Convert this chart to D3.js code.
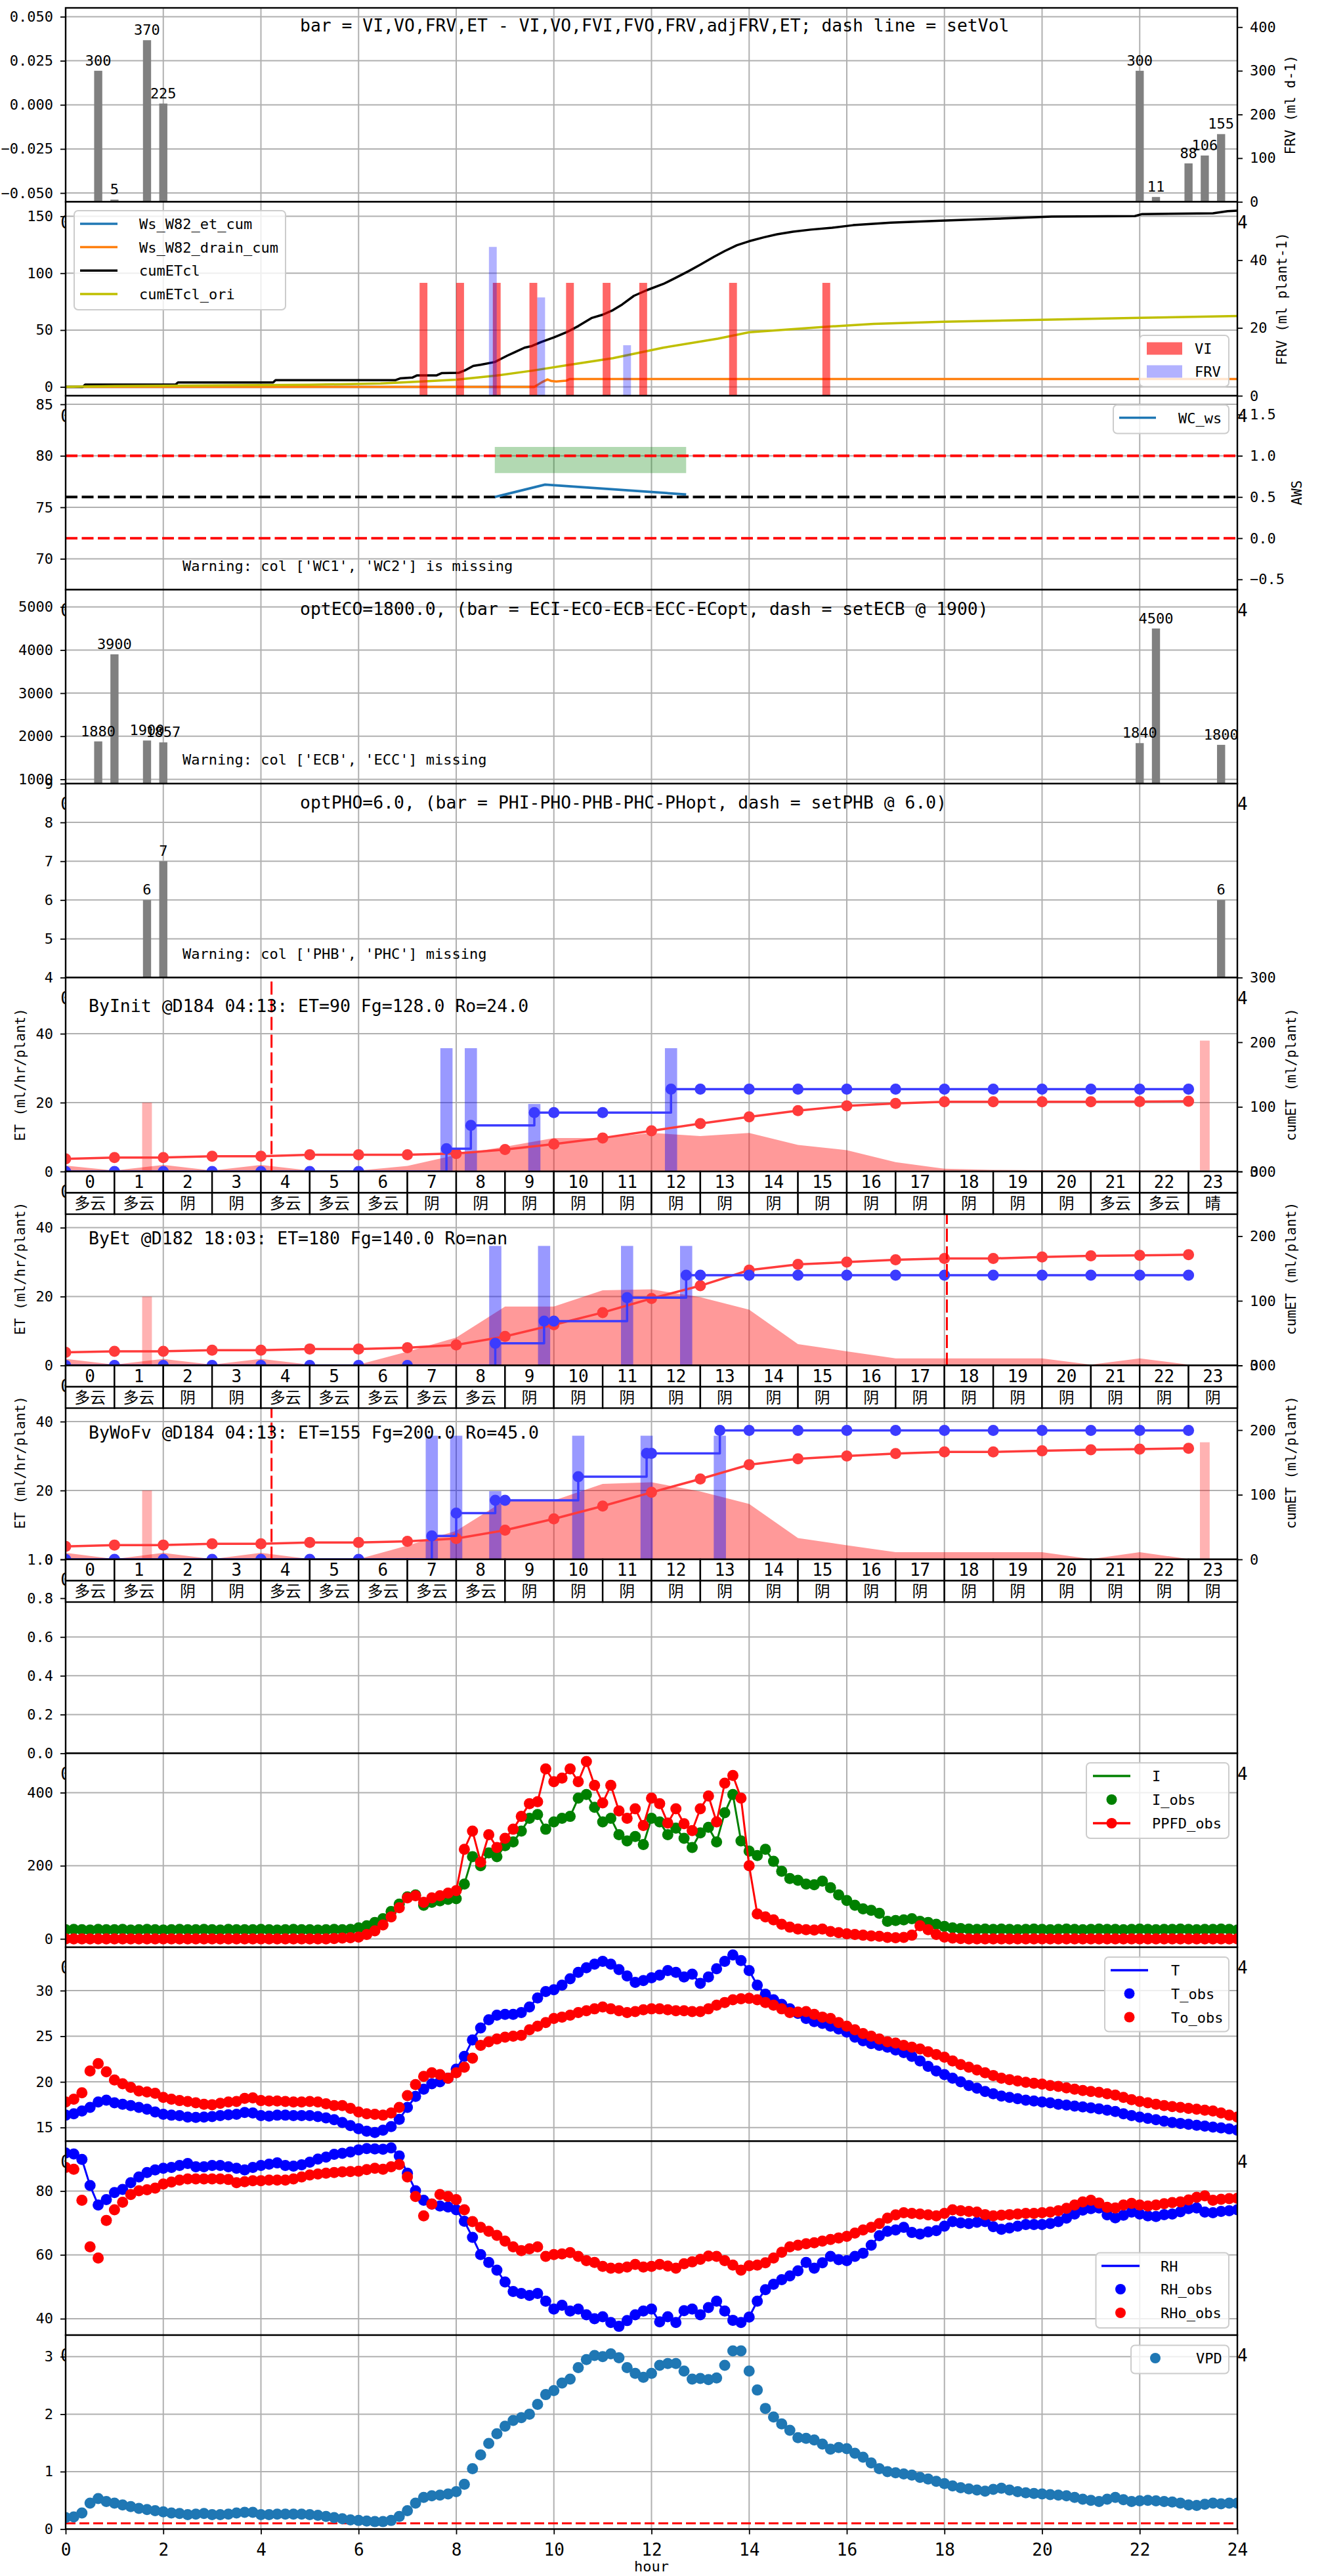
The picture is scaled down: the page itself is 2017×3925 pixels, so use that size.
<!DOCTYPE html>
<html><head><meta charset="utf-8">
<script src="https://cdn.jsdelivr.net/npm/d3@7"></script>
<style>
body{margin:0;background:#fff;}
svg text{font-family:"DejaVu Sans Mono","Noto Sans CJK SC",monospace;fill:#000;}
</style></head><body>
<svg id="chart" width="2017" height="3925"></svg>
<script>
// ================= DATA =================
const HOURS=[0,1,2,3,4,5,6,7,8,9,10,11,12,13,14,15,16,17,18,19,20,21,22,23];
const XTICKS=[0,2,4,6,8,10,12,14,16,18,20,22,24];

// panel 0 : FRV per day bars
const FRVD_T=[0.667,1.0,1.667,2.0,22.0,22.333,23.0,23.333,23.667];
const FRVD_V=[300,5,370,225,300,11,88,106,155];
const TITLE0="bar = VI,VO,FRV,ET - VI,VO,FVI,FVO,FRV,adjFRV,ET; dash line = setVol";

// panel 1 : cumulative lines + VI / FRV bars
const ETCUM_T=[0,9.6], ETCUM_V=[0,0];
const DRAIN_T=[0,9.6,9.75,9.87,9.95,10.05,10.25,10.33,24];
const DRAIN_V=[0,0,4.0,6.6,5.2,4.8,5.5,7.0,7.0];
const CUMETCL_T=[0,0.35,0.4,2.25,2.3,4.25,4.3,6.75,6.85,7.1,7.2,7.6,7.7,8.05,8.2,8.35,8.5,8.79,9.05,9.2,9.4,9.55,9.74,10.0,10.26,10.5,10.78,11.0,11.21,11.4,11.64,11.9,12.24,12.5,12.76,13.0,13.28,13.5,13.75,14.0,14.3,14.57,14.9,15.26,15.7,16.13,16.9,17.93,19.05,20.2,21.9,22.05,23.5,23.8,24];
const CUMETCL_V=[0,0,2.0,2.0,3.9,3.9,5.9,5.9,7.5,8.2,10.2,10.2,12.1,12.4,15,18.5,19.5,21.9,27.6,30.5,34.5,36,39.5,43.5,48.1,53.5,60.7,63.5,67.5,72.5,80.1,85,90.5,96,101.8,107.5,114.4,119.5,124.6,128.1,131.5,134.2,136.5,138.3,139.9,142.2,144.5,146.1,147.9,149.7,150.2,152.0,152.7,154.5,155.0];
const ORI_T=[0,0.3,1,3,5,6.45,7.3,8.0,8.79,9.57,10.35,11.21,12.24,13.36,14.0,15.7,16.55,17.97,20,22,24];
const ORI_V=[0,0.3,0.8,1.3,1.9,3.0,4.8,6.4,9.8,14.4,19.6,25.3,34.5,42.4,48.1,53.2,55.5,57.3,59.1,60.7,62.3];
const VI_T=[7.33,8.08,8.83,9.58,10.33,11.08,11.83,13.67,15.58];
const VI_V=[33.3,33.3,33.3,33.3,33.3,33.3,33.3,33.3,33.3];
const FRV1_T=[8.75,9.74,11.5];
const FRV1_V=[43.9,29.0,14.9];

// panel 2 : AWS
const AWS_LIMITS=[80,72];      // red dashed
const AWS_SET=76;              // black dashed
const AWS_BAND_T=[8.79,12.71], AWS_BAND_V=[0.79,1.107];
const WC_T=[8.79,9.82,12.71], WC_V=[76.0,77.2,76.25];
const WARN2="Warning: col ['WC1', 'WC2'] is missing";

// panel 3 : EC
const EC_T=[0.667,1.0,1.667,2.0,22.0,22.333,23.667];
const EC_V=[1880,3900,1900,1857,1840,4500,1800];
const TITLE3="optECO=1800.0, (bar = ECI-ECO-ECB-ECC-ECopt, dash = setECB @ 1900)";
const WARN3="Warning: col ['ECB', 'ECC'] missing";

// panel 4 : PH
const PH_T=[1.667,2.0,23.667];
const PH_V=[6,7,6];
const TITLE4="optPHO=6.0, (bar = PHI-PHO-PHB-PHC-PHopt, dash = setPHB @ 6.0)";
const WARN4="Warning: col ['PHB', 'PHC'] missing";

// panels 5-7 : ET by scenario
const INIT_TITLE="ByInit @D184 04:13: ET=90 Fg=128.0 Ro=24.0";
const INIT_ET=[1.7,0.3,1.9,0.3,1.9,0.3,0.3,1.6,4.8,7.2,9.7,9.7,11.2,10.3,11.2,7.7,6.2,2.7,0.8,0.5,0.4,0.4,0.3,0.3];
const INIT_CUM=[19.5,21.6,21.6,23.7,23.7,25.8,25.8,25.8,27.8,34.0,42.3,51.9,63.0,74.2,84.6,94.1,101.5,105.3,107.8,107.8,107.8,107.8,108.2,108.6];
const INIT_FG_T=[0,1,2,3,4,5,6,7.8,8.3,9.6,10,11,12.4,13,14,15,16,17,18,19,20,21,22,23];
const INIT_FG_V=[0,0,0,0,0,0,0,35.2,71.3,91.2,91.2,91.2,127.3,127.3,127.3,127.3,127.3,127.3,127.3,127.3,127.3,127.3,127.3,127.3];
const INIT_FRV_T=[7.8,8.3,9.6,12.4], INIT_FRV_V=[35.8,35.8,19.6,35.8];
const INIT_VI_T=[1.667,23.333], INIT_VI_V=[20,38];
const INIT_MARK=4.217;
const INIT_WX=['多云','多云','阴','阴','多云','多云','多云','阴','阴','阴','阴','阴','阴','阴','阴','阴','阴','阴','阴','阴','阴','多云','多云','晴'];

const ET_TITLE="ByEt @D182 18:03: ET=180 Fg=140.0 Ro=nan";
const ET_ET=[1.9,0.25,1.9,0.25,1.9,0.25,0.25,4.0,8.1,17.1,17.1,21.8,22.1,19.8,16.2,6.2,4.1,2.05,2.05,2.05,2.05,0.25,2.05,0.25];
const ET_CUMV=[20.2,21.9,21.9,23.7,23.7,25.5,25.5,27.3,31.7,44.9,62.9,81.8,103.5,123.3,147.5,156.3,159.8,163.4,165.5,165.5,167.7,169.5,170.4,171.3];
const ET_FG_T=[0,1,2,3,4,5,6,7,8.8,9.8,10,11.5,12.71,13,14,15,16,17,18,19,20,21,22,23];
const ET_FG_V=[0,0,0,0,0,0,0,0,34.3,68.6,68.6,104.8,139.5,139.5,139.5,139.5,139.5,139.5,139.5,139.5,139.5,139.5,139.5,139.5];
const ET_FRV_T=[8.8,9.8,11.5,12.71], ET_FRV_V=[34.7,34.7,34.7,34.7];
const ET_VI_T=[1.667], ET_VI_V=[20];
const ET_MARK=18.05;
const ET_WX=['多云','多云','阴','阴','多云','多云','多云','多云','多云','阴','阴','阴','阴','阴','阴','阴','阴','阴','阴','阴','阴','阴','阴','阴'];

const WO_TITLE="ByWoFv @D184 04:13: ET=155 Fg=200.0 Ro=45.0";
const WO_ET=[1.9,0.1,1.9,0.1,1.9,0.1,0.1,4.0,8.3,17.1,17.1,21.9,22.4,19.7,16.1,6.2,4.1,2.1,2.1,2.1,2.1,0.1,2.1,0.1];
const WO_CUM=[20.0,22.2,22.2,24.0,24.0,26.2,26.2,27.9,32.3,45.1,62.7,82.5,103.7,124.4,146.4,155.6,160.0,163.6,166.2,166.2,167.9,169.6,170.6,171.9];
const WO_FG_T=[0,1,2,3,4,5,6,7.5,8.0,8.8,9,10.5,11.9,12,13.4,14,15,16,17,18,19,20,21,22,23];
const WO_FG_V=[0,0,0,0,0,0,0,36.3,71.5,91.4,91.4,127.9,164.0,164.0,199.6,199.6,199.6,199.6,199.6,199.6,199.6,199.6,199.6,199.6,199.6];
const WO_FRV_T=[7.5,8.0,8.8,10.5,11.9,13.4], WO_FRV_V=[35.9,35.9,19.8,35.9,35.9,35.9];
const WO_VI_T=[1.667,23.333], WO_VI_V=[20,34];
const WO_MARK=4.217;
const WO_WX=ET_WX;

// panels 9-12 : 10-minute observations, from 00:00 to 24:00
const OBS_STEP_H=1/6;
const I_OBS=[25,26,25,24,26,25,25,26,24,25,26,25,24,25,26,25,25,26,25,24,26,25,25,25,26,25,24,25,26,25,25,24,25,26,25,26,
30,36,45,55,75,95,115,120,92,100,104,108,110,150,225,200,235,225,255,265,295,330,340,300,320,330,335,385,395,360,320,330,285,268,280,258,330,320,285,303,275,250,290,305,265,345,395,268,240,228,245,212,185,165,160,150,148,158,140,120,105,92,82,78,70,48,50,52,55,48,45,40,34,
30,28,27,26,27,26,27,26,25,26,27,26,25,26,27,26,25,26,27,26,26,25,26,27,26,25,26,26,27,26,25,26,26,27,26,24];
const PPFD_OBS=[0,0,0,0,0,0,0,0,0,0,0,0,0,0,0,0,0,0,0,0,0,0,0,0,0,0,0,0,0,0,0,0,0,
1,2,3,5,12,22,38,60,85,112,118,100,112,118,125,132,245,295,210,285,250,275,300,335,370,375,465,430,440,465,430,485,420,372,420,350,330,356,310,385,370,317,356,315,296,356,391,320,426,447,385,200,68,60,52,40,32,27,25,24,27,20,17,14,12,10,8,7,4,3,4,10,36,25,12,5,2,1,
0,0,0,0,0,0,0,0,0,0,0,0,0,0,0,0,0,0,0,0,0,0,0,0,0,0,0,0,0,0,0,0,0,0];
const T_OBS=[16.35,16.5,16.8,17.2,17.8,18.0,17.7,17.55,17.4,17.2,
17.0,16.7,16.45,16.35,16.3,16.15,16.1,16.15,16.2,16.3,
16.4,16.45,16.65,16.6,16.3,16.25,16.35,16.35,16.3,16.3,
16.3,16.2,16.05,15.85,15.55,15.2,14.87,14.6,14.45,14.7,
15.1,15.9,17.2,18.4,19.2,19.8,20.0,20.4,21.4,22.8,
24.6,25.9,26.8,27.3,27.4,27.4,27.6,28.2,29.2,29.9,
30.1,30.6,31.3,32.0,32.5,32.9,33.2,32.9,32.3,31.6,
30.9,31.1,31.4,31.7,32.2,32.0,31.5,31.8,30.8,31.5,
32.4,33.2,33.9,33.3,32.2,30.6,29.6,29.0,28.5,28.0,
27.5,26.95,26.6,26.4,26.1,25.8,25.45,24.9,24.5,24.2,
24.0,23.8,23.5,23.2,22.8,22.3,21.7,21.2,20.8,20.4,
20.0,19.6,19.3,18.95,18.7,18.45,18.3,18.15,18.0,17.9,
17.8,17.7,17.55,17.45,17.35,17.25,17.15,17.05,16.9,16.75,
16.5,16.3,16.15,16.0,15.85,15.7,15.55,15.45,15.35,15.25,
15.15,15.05,14.95,14.85,14.7];
const TO_OBS=[17.8,18.1,18.8,21.2,22.0,21.1,20.2,19.8,19.4,19.0,
18.9,18.75,18.3,18.1,17.95,17.85,17.7,17.55,17.5,17.65,
17.8,17.85,18.2,18.25,17.95,17.9,17.9,17.85,17.8,17.8,
17.85,17.8,17.6,17.4,17.4,17.1,16.7,16.5,16.45,16.35,
16.6,17.2,18.5,19.7,20.6,21.0,20.8,20.4,21.0,21.6,
22.6,24.0,24.4,24.7,24.9,25.0,25.1,25.7,26.1,26.5,
26.95,27.1,27.3,27.6,27.8,28.0,28.2,28.0,27.8,27.6,
27.7,27.9,28.0,28.0,27.9,27.8,27.8,27.7,27.7,28.0,
28.4,28.7,29.0,29.1,29.15,29.0,28.7,28.4,28.0,27.6,
27.65,27.7,27.4,27.1,26.95,26.5,26.1,25.7,25.3,25.0,
24.7,24.4,24.25,24.0,23.8,23.6,23.3,23.0,22.7,22.3,
21.9,21.6,21.3,21.0,20.7,20.4,20.25,20.1,19.95,19.85,
19.75,19.6,19.5,19.35,19.2,19.05,18.95,18.85,18.7,18.55,
18.3,18.05,17.85,17.7,17.55,17.4,17.3,17.2,17.1,17.0,
16.9,16.8,16.6,16.35,16.15];
const RH_OBS=[91.9,91.6,89.9,81.7,75.6,77.3,79.5,80.5,82.6,84.4,
85.8,86.6,87.1,87.4,88.0,88.6,87.6,87.6,88.0,88.0,
87.6,87.1,86.6,87.4,88.0,88.4,88.8,88.0,87.8,88.2,
89.0,90.0,90.6,91.5,91.8,92.2,92.9,93.3,93.2,93.1,
93.5,91.0,85.6,80.1,77.1,75.9,75.3,75.0,74.1,70.5,
65.5,60.1,57.6,55.2,51.5,48.5,47.9,47.3,47.9,45.5,
43.0,44.2,42.4,43.0,41.2,40.0,40.6,38.8,37.6,39.4,
41.2,42.4,43.0,39.0,40.6,38.8,42.5,43.0,41.2,43.5,
45.5,42.4,39.5,38.8,40.5,45.5,49.1,50.8,52.2,53.4,
55.0,57.6,55.8,57.5,59.5,58.5,58.2,59.5,60.5,63.0,
66.0,67.4,67.8,68.6,67.0,66.5,67.2,67.6,69.0,70.4,
70.0,69.8,70.2,70.4,68.8,68.0,68.4,69.0,69.5,69.5,
69.5,69.8,70.4,71.5,72.8,74.0,74.5,74.7,72.5,71.6,
72.4,73.4,72.8,72.2,72.0,72.6,72.8,73.5,74.5,74.7,
73.4,73.2,73.6,73.8,74.1];
const RHO_OBS=[87.4,86.8,77.1,62.5,59.0,70.8,74.1,76.5,78.9,80.1,
80.4,80.9,82.2,82.8,83.4,83.8,83.8,83.8,83.8,83.8,
83.6,82.6,82.9,83.2,83.2,83.4,83.4,83.4,83.8,84.4,
85.0,85.3,85.6,85.8,86.0,86.1,86.2,86.7,87.1,86.8,
87.6,88.3,84.4,78.3,72.2,75.9,78.9,78.3,77.3,74.1,
70.4,68.6,67.4,66.1,64.3,62.5,61.3,61.9,62.5,59.5,
60.1,60.3,60.7,59.5,58.2,57.6,56.4,55.8,55.8,56.2,
57.0,56.2,56.4,57.0,56.5,55.8,57.2,57.8,58.6,59.6,
59.5,58.2,56.8,55.2,56.6,56.8,57.5,59.0,60.8,62.5,
63.0,63.5,63.8,64.3,64.8,65.3,65.8,66.8,67.8,68.6,
69.8,71.5,72.5,73.2,73.0,72.8,72.5,72.2,73.0,74.1,
73.8,73.6,73.4,72.6,72.2,72.4,72.6,72.8,73.0,73.0,
73.2,73.4,73.8,74.6,75.6,76.6,77.1,76.2,74.9,74.7,
75.6,76.1,75.6,75.3,75.6,76.0,76.4,76.6,77.2,78.0,
78.5,77.1,77.4,77.6,77.7];
const VPD_OBS=[0.20,0.21,0.28,0.45,0.53,0.48,0.45,0.42,0.39,0.36,
0.34,0.32,0.30,0.28,0.27,0.25,0.26,0.27,0.25,0.25,
0.26,0.28,0.29,0.29,0.25,0.25,0.26,0.26,0.26,0.26,
0.25,0.24,0.22,0.20,0.18,0.16,0.15,0.14,0.13,0.13,
0.15,0.22,0.32,0.45,0.55,0.58,0.59,0.61,0.65,0.78,
1.05,1.29,1.49,1.66,1.79,1.89,1.94,2.00,2.17,2.34,
2.41,2.54,2.61,2.81,2.95,3.02,3.00,3.05,2.98,2.81,
2.71,2.64,2.71,2.85,2.88,2.88,2.75,2.61,2.62,2.60,
2.63,2.85,3.10,3.10,2.75,2.42,2.10,1.95,1.83,1.72,
1.59,1.58,1.55,1.48,1.39,1.42,1.40,1.32,1.25,1.15,
1.05,1.00,0.98,0.96,0.94,0.90,0.87,0.83,0.79,0.75,
0.72,0.70,0.68,0.66,0.69,0.71,0.68,0.65,0.63,0.62,
0.61,0.60,0.59,0.58,0.55,0.52,0.50,0.48,0.52,0.55,
0.51,0.48,0.49,0.50,0.49,0.48,0.47,0.45,0.42,0.41,
0.43,0.45,0.44,0.45,0.45];
const VPD_LIMIT=0.1;

// ================= LAYOUT =================
const W=2017,H=3925,L=100,R=1885,TOP=12,PH=295.5;
const OBS_R=8.5;
const svg=d3.select('#chart');
svg.append('rect').attr('width',W).attr('height',H).attr('fill','#fff');
const defs=svg.append('defs');
const x=d3.scaleLinear().domain([0,24]).range([L,R]);
const GRID='#b0b0b0';

function txt(g,s,x0,y0,size,anchor){
  return g.append('text').attr('x',x0).attr('y',y0).attr('text-anchor',anchor||'start').style('font-size',size+'px').text(s);
}
function vlabel(g,s,x0,y0){
  g.append('text').attr('transform',`translate(${x0},${y0}) rotate(-90)`).attr('text-anchor','middle')
   .attr('dominant-baseline','central').style('font-size','21px').text(s);
}
function styleAxis(sel,fs){
  sel.select('.domain').remove();
  sel.selectAll('.tick line').attr('stroke','#000').attr('stroke-width',1.8);
  sel.selectAll('.tick text').style('font-size',(fs||22)+'px');
}
function panel(i,cfg){
  const t=TOP+i*PH,b=t+PH;
  const y=d3.scaleLinear().domain(cfg.ld).range([b,t]);
  const y2=cfg.rd?d3.scaleLinear().domain(cfg.rd).range([b,t]):null;
  const g=svg.append('g');
  g.append('rect').attr('x',L).attr('y',t).attr('width',R-L).attr('height',PH).attr('fill','#fff');
  const gr=g.append('g').attr('stroke',GRID).attr('stroke-width',2);
  XTICKS.forEach(h=>gr.append('line').attr('x1',x(h)).attr('x2',x(h)).attr('y1',t).attr('y2',b));
  cfg.lt.forEach(v=>gr.append('line').attr('x1',L).attr('x2',R).attr('y1',y(v)).attr('y2',y(v)));
  const id='clip'+i;
  defs.append('clipPath').attr('id',id).append('rect').attr('x',L).attr('y',t).attr('width',R-L).attr('height',PH);
  const c=g.append('g').attr('clip-path',`url(#${id})`);
  const a=g.append('g');
  a.append('rect').attr('x',L).attr('y',t).attr('width',R-L).attr('height',PH).attr('fill','none').attr('stroke','#000').attr('stroke-width',2.4);
  const la=a.append('g').attr('transform',`translate(${L},0)`)
    .call(d3.axisLeft(y).tickValues(cfg.lt).tickFormat(cfg.lf||(d=>String(d))).tickSize(8).tickPadding(11).tickSizeOuter(0));
  styleAxis(la);
  if(y2){
    const ra=a.append('g').attr('transform',`translate(${R},0)`)
      .call(d3.axisRight(y2).tickValues(cfg.rt).tickFormat(cfg.rf||(d=>String(d))).tickSize(8).tickPadding(11).tickSizeOuter(0));
    styleAxis(ra);
  }
  (cfg.xl||[0,24]).forEach(h=>txt(a,String(h),x(h),b+40,26,'middle'));
  const o=g.append('g');
  return {t,b,y,y2,c,a,o};
}
function bars(g,T,V,wH,ys,color,op,base){
  T.forEach((t,k)=>{
    const v=V[k], y0=ys(base||0), y1=ys(v);
    g.append('rect').attr('x',x(t-wH/2)).attr('width',x(wH)-x(0)).attr('y',Math.min(y0,y1))
      .attr('height',Math.abs(y0-y1)).attr('fill',color).attr('fill-opacity',op);
  });
}
function pline(g,T,V,ys,color,w,curve,op){
  const ln=d3.line().x(d=>x(d[0])).y(d=>ys(d[1])).curve(curve||d3.curveLinear);
  return g.append('path').attr('d',ln(T.map((t,k)=>[t,V[k]]))).attr('fill','none').attr('stroke',color)
    .attr('stroke-width',w).attr('stroke-opacity',op||1).attr('stroke-linejoin','round');
}
function dots(g,T,V,ys,color,r){
  T.forEach((t,k)=>g.append('circle').attr('cx',x(t)).attr('cy',ys(V[k])).attr('r',r).attr('fill',color));
}
function hline(g,v,ys,color,w,dash){
  g.append('line').attr('x1',L).attr('x2',R).attr('y1',ys(v)).attr('y2',ys(v)).attr('stroke',color)
    .attr('stroke-width',w).attr('stroke-dasharray',dash);
}
function legend(g,box,items){
  g.append('rect').attr('x',box[0]).attr('y',box[1]).attr('width',box[2]-box[0]).attr('height',box[3]-box[1])
    .attr('rx',6).attr('fill','#fff').attr('fill-opacity',0.8).attr('stroke','#cccccc').attr('stroke-width',2);
  items.forEach(it=>{
    const s0=it.sw[0],s1=it.sw[1],cy=it.y,cx=(s0+s1)/2;
    if(it.kind==='line'||it.kind==='linedot')
      g.append('line').attr('x1',s0).attr('x2',s1).attr('y1',cy).attr('y2',cy).attr('stroke',it.color).attr('stroke-width',3.5);
    if(it.kind==='dot'||it.kind==='linedot')
      g.append('circle').attr('cx',cx).attr('cy',cy).attr('r',8).attr('fill',it.color);
    if(it.kind==='patch')
      g.append('rect').attr('x',s0).attr('y',cy-9.5).attr('width',s1-s0).attr('height',19).attr('fill',it.color).attr('fill-opacity',it.op);
    txt(g,it.label,it.tx,cy+8,22);
  });
}

// ---------- panel 0 ----------
const p0=panel(0,{ld:[-0.055,0.055],lt:[-0.05,-0.025,0,0.025,0.05],lf:d3.format('.3f'),rd:[0,444],rt:[0,100,200,300,400]});
bars(p0.c,FRVD_T,FRVD_V,1/6,p0.y2,'#808080',1);
FRVD_T.forEach((t,k)=>txt(p0.o,String(FRVD_V[k]),x(t),p0.y2(FRVD_V[k])-8,22,'middle'));
txt(p0.o,TITLE0,457,48,26.4);
vlabel(p0.o,'FRV (ml d-1)',1966,p0.t+PH/2);

// ---------- panel 1 ----------
const p1=panel(1,{ld:[-7.75,162.75],lt:[0,50,100,150],rd:[0,57.2],rt:[0,20,40]});
pline(p1.c,ETCUM_T,ETCUM_V,p1.y,'#1f77b4',3.5);
pline(p1.c,DRAIN_T,DRAIN_V,p1.y,'#ff7f0e',3.5);
pline(p1.c,CUMETCL_T,CUMETCL_V,p1.y,'#000000',3.5);
pline(p1.c,ORI_T,ORI_V,p1.y,'#bfbf00',3.5);
bars(p1.c,VI_T,VI_V,0.16,p1.y2,'red',0.6);
bars(p1.c,FRV1_T,FRV1_V,0.16,p1.y2,'blue',0.3);
legend(p1.o,[113,321,435,472],[
  {kind:'line',color:'#1f77b4',label:'Ws_W82_et_cum',sw:[122,179],tx:212,y:341},
  {kind:'line',color:'#ff7f0e',label:'Ws_W82_drain_cum',sw:[122,179],tx:212,y:376.5},
  {kind:'line',color:'#000000',label:'cumETcl',sw:[122,179],tx:212,y:412.3},
  {kind:'line',color:'#bfbf00',label:'cumETcl_ori',sw:[122,179],tx:212,y:448}]);
legend(p1.o,[1736,511,1872,589],[
  {kind:'patch',color:'red',op:0.6,label:'VI',sw:[1747,1801],tx:1820,y:531},
  {kind:'patch',color:'blue',op:0.3,label:'FRV',sw:[1747,1801],tx:1820,y:566}]);
vlabel(p1.o,'FRV (ml plant-1)',1953,p1.t+PH/2);

// ---------- panel 2 ----------
const p2=panel(2,{ld:[67.0,85.83],lt:[70,75,80,85],rd:[-0.625,1.728],rt:[-0.5,0,0.5,1.0,1.5],rf:d3.format('.1f')});
p2.c.append('rect').attr('x',x(AWS_BAND_T[0])).attr('width',x(AWS_BAND_T[1])-x(AWS_BAND_T[0]))
  .attr('y',p2.y2(AWS_BAND_V[1])).attr('height',p2.y2(AWS_BAND_V[0])-p2.y2(AWS_BAND_V[1])).attr('fill','green').attr('fill-opacity',0.3);
AWS_LIMITS.forEach(v=>hline(p2.c,v,p2.y,'red',3.8,'18 6.5'));
hline(p2.c,AWS_SET,p2.y,'#000',3.8,'18 6.5');
pline(p2.c,WC_T,WC_V,p2.y,'#1f77b4',3.8);
txt(p2.o,WARN2,278,870,22);
legend(p2.o,[1696,617,1872,660.5],[{kind:'line',color:'#1f77b4',label:'WC_ws',sw:[1705,1761],tx:1795,y:636.5}]);
vlabel(p2.o,'AWS',1976,p2.t+PH/2);

// ---------- panel 3 ----------
const p3=panel(3,{ld:[900,5400],lt:[1000,2000,3000,4000,5000]});
bars(p3.c,EC_T,EC_V,1/6,p3.y,'#808080',1);
EC_T.forEach((t,k)=>txt(p3.o,String(EC_V[k]),x(t),p3.y(EC_V[k])-8,22,'middle'));
txt(p3.o,TITLE3,457,937,26.4);
txt(p3.o,WARN3,278,1164.5,22);

// ---------- panel 4 ----------
const p4=panel(4,{ld:[4,9],lt:[4,5,6,7,8,9]});
bars(p4.c,PH_T,PH_V,1/6,p4.y,'#808080',1);
PH_T.forEach((t,k)=>txt(p4.o,String(PH_V[k]),x(t),p4.y(PH_V[k])-8,22,'middle'));
txt(p4.o,TITLE4,457,1232,26.4);
txt(p4.o,WARN4,278,1461,22);

// ---------- panels 5-7 ----------
function etPanel(i,d,titleDy){
  const p=panel(i,{ld:[0,56.3],lt:[0,20,40],rd:[0,300],rt:[0,100,200,300],xl:[0]});
  const ar=d3.area().x((v,k)=>x(HOURS[k])).y0(p.y(0)).y1(v=>p.y(v));
  p.c.append('path').attr('d',ar(d.et)).attr('fill','red').attr('fill-opacity',0.4);
  bars(p.c,d.viT,d.viV,0.2,p.y,'red',0.3);
  bars(p.c,d.frvT,d.frvV,0.25,p.y,'blue',0.4);
  pline(p.c,HOURS,d.cum,p.y2,'#ff3b3b',3.5);
  dots(p.c,HOURS,d.cum,p.y2,'#ff3b3b',8.5);
  pline(p.c,d.fgT,d.fgV,p.y2,'#3b3bff',3.5,d3.curveStepAfter);
  dots(p.c,d.fgT,d.fgV,p.y2,'#3b3bff',8.5);
  p.c.append('line').attr('x1',x(d.mark)).attr('x2',x(d.mark)).attr('y1',p.t+6).attr('y2',p.b)
    .attr('stroke','red').attr('stroke-width',3).attr('stroke-dasharray','20 7');
  txt(p.o,d.title,135,p.t+titleDy,26.5);
  vlabel(p.o,'ET (ml/hr/plant)',31,p.t+PH/2);
  vlabel(p.o,'cumET (ml/plant)',1967,p.t+PH/2);
  return p;
}
const p5=etPanel(5,{et:INIT_ET,cum:INIT_CUM,fgT:INIT_FG_T,fgV:INIT_FG_V,frvT:INIT_FRV_T,frvV:INIT_FRV_V,viT:INIT_VI_T,viV:INIT_VI_V,mark:INIT_MARK,title:INIT_TITLE},52);
const p6=etPanel(6,{et:ET_ET,cum:ET_CUMV,fgT:ET_FG_T,fgV:ET_FG_V,frvT:ET_FRV_T,frvV:ET_FRV_V,viT:ET_VI_T,viV:ET_VI_V,mark:ET_MARK,title:ET_TITLE},111);
const p7=etPanel(7,{et:WO_ET,cum:WO_CUM,fgT:WO_FG_T,fgV:WO_FG_V,frvT:WO_FRV_T,frvV:WO_FRV_V,viT:WO_VI_T,viV:WO_VI_V,mark:WO_MARK,title:WO_TITLE},111);

// ---------- panel 8 (empty) ----------
const p8=panel(8,{ld:[0,1],lt:[0,0.2,0.4,0.6,0.8,1.0],lf:d3.format('.1f')});

// ---------- panel 9 : light ----------
const tObs=arr=>arr.map((v,k)=>k*OBS_STEP_H);
const p9=panel(9,{ld:[-23,507.6],lt:[0,200,400]});
pline(p9.c,tObs(I_OBS),I_OBS,p9.y,'green',3);
dots(p9.c,tObs(I_OBS),I_OBS,p9.y,'green',OBS_R);
pline(p9.c,tObs(PPFD_OBS),PPFD_OBS,p9.y,'red',3);
dots(p9.c,tObs(PPFD_OBS),PPFD_OBS,p9.y,'red',OBS_R);
legend(p9.o,[1655,2686,1872,2801],[
  {kind:'line',color:'green',label:'I',sw:[1665,1722],tx:1755,y:2706},
  {kind:'dot',color:'green',label:'I_obs',sw:[1665,1722],tx:1755,y:2742},
  {kind:'linedot',color:'red',label:'PPFD_obs',sw:[1665,1722],tx:1755,y:2778}]);

// ---------- panel 10 : temperature ----------
const p10=panel(10,{ld:[13.5,34.75],lt:[15,20,25,30]});
pline(p10.c,tObs(T_OBS),T_OBS,p10.y,'blue',3);
dots(p10.c,tObs(T_OBS),T_OBS,p10.y,'blue',OBS_R);
dots(p10.c,tObs(TO_OBS),TO_OBS,p10.y,'red',OBS_R);
legend(p10.o,[1683,2982,1872,3095.5],[
  {kind:'line',color:'blue',label:'T',sw:[1692,1749],tx:1784,y:3002},
  {kind:'dot',color:'blue',label:'T_obs',sw:[1692,1749],tx:1784,y:3037.5},
  {kind:'dot',color:'red',label:'To_obs',sw:[1692,1749],tx:1784,y:3073.5}]);

// ---------- panel 11 : humidity ----------
const p11=panel(11,{ld:[34.85,95.6],lt:[40,60,80]});
pline(p11.c,tObs(RH_OBS),RH_OBS,p11.y,'blue',3);
dots(p11.c,tObs(RH_OBS),RH_OBS,p11.y,'blue',OBS_R);
dots(p11.c,tObs(RHO_OBS),RHO_OBS,p11.y,'red',OBS_R);
legend(p11.o,[1669.5,3432.5,1872,3547],[
  {kind:'line',color:'blue',label:'RH',sw:[1678,1736],tx:1768,y:3452.5},
  {kind:'dot',color:'blue',label:'RH_obs',sw:[1678,1736],tx:1768,y:3488},
  {kind:'dot',color:'red',label:'RHo_obs',sw:[1678,1736],tx:1768,y:3524}]);

// ---------- panel 12 : VPD ----------
const p12=panel(12,{ld:[0,3.375],lt:[0,1,2,3],xl:[]});
hline(p12.c,VPD_LIMIT,p12.y,'red',3,'15 6');
dots(p12.c,tObs(VPD_OBS),VPD_OBS,p12.y,'#1f77b4',OBS_R);
legend(p12.o,[1723,3573.5,1872,3616.5],[{kind:'dot',color:'#1f77b4',label:'VPD',sw:[1738,1782],tx:1822,y:3593}]);
const xa=p12.a.append('g').attr('transform',`translate(0,${p12.b})`)
  .call(d3.axisBottom(x).tickValues(XTICKS).tickFormat(d=>String(d)).tickSize(8).tickPadding(14).tickSizeOuter(0));
styleAxis(xa,26);
txt(svg,'hour',992.5,3918,22,'middle');

// ---------- tables under ET panels ----------
function table(b,wx){
  const g=svg.append('g');
  const rh=32.5;
  HOURS.forEach((h,k)=>{
    const x0=x(h),x1=x(h+1),cx=(x0+x1)/2;
    g.append('rect').attr('x',x0).attr('y',b).attr('width',x1-x0).attr('height',rh).attr('fill','#fff').attr('stroke','#000').attr('stroke-width',2.4);
    g.append('rect').attr('x',x0).attr('y',b+rh).attr('width',x1-x0).attr('height',rh).attr('fill','#fff').attr('stroke','#000').attr('stroke-width',2.4);
    txt(g,String(h),cx,b+rh/2+9,26,'middle');
    txt(g,wx[k],cx,b+rh*1.5+8.5,24,'middle').style('font-family','"Noto Sans CJK SC",sans-serif');
  });
}
table(p5.b,INIT_WX);
table(p6.b,ET_WX);
table(p7.b,WO_WX);
</script></body></html>
